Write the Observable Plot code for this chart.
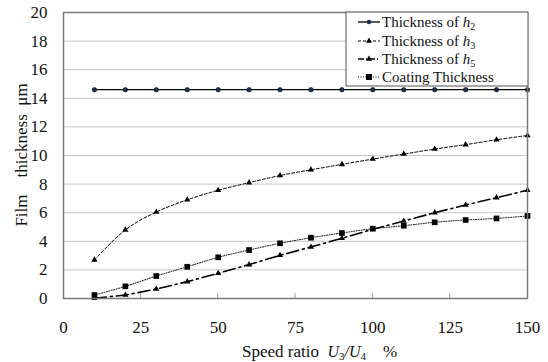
<!DOCTYPE html>
<html>
<head>
<meta charset="utf-8">
<script src="https://cdn.jsdelivr.net/npm/d3@7"></script>
<script src="https://cdn.jsdelivr.net/npm/@observablehq/plot@0.6"></script>
<style>
  html, body { margin: 0; padding: 0; background: #fff; }
  #chart svg, #chart svg text { font-family: "Liberation Serif", "Times New Roman", Times, "DejaVu Serif", serif !important; }
</style>
</head>
<body>
<div id="chart"></div>
<script>
// Speed ratio U3/U4 (%)
const speedRatio = [10, 20, 30, 40, 50, 60, 70, 80, 90, 100, 110, 120, 130, 140, 150];
// Film thickness (µm) for each series
const h2 = [14.6, 14.6, 14.6, 14.6, 14.6, 14.6, 14.6, 14.6, 14.6, 14.6, 14.6, 14.6, 14.6, 14.6, 14.6];
const h3 = [2.7, 4.8, 6.05, 6.9, 7.57, 8.1, 8.6, 9.0, 9.38, 9.75, 10.1, 10.45, 10.76, 11.1, 11.4];
const h5 = [0.02, 0.24, 0.66, 1.18, 1.76, 2.37, 3.02, 3.6, 4.21, 4.84, 5.42, 6.0, 6.54, 7.05, 7.57];
const coating = [0.24, 0.85, 1.57, 2.22, 2.88, 3.39, 3.86, 4.25, 4.58, 4.88, 5.09, 5.33, 5.49, 5.6, 5.77];
const xTicks = [0, 25, 50, 75, 100, 125, 150];
const yTicks = [0, 2, 4, 6, 8, 10, 12, 14, 16, 18, 20];

const rows = (ys) => speedRatio.map((x, i) => ({x, y: ys[i]}));
const dH2 = rows(h2), dH3 = rows(h3), dH5 = rows(h5), dCoat = rows(coating);

const serif = '"Liberation Serif", "Times New Roman", Times, "DejaVu Serif", serif';

const chart = Plot.plot({
  width: 548,
  height: 362,
  marginLeft: 63,
  marginRight: 21,
  marginTop: 12,
  marginBottom: 64,
  style: {fontFamily: serif, background: "#fff"},
  x: {domain: [0, 150]},
  y: {domain: [0, 20]},
  marks: [
    Plot.gridY(yTicks, {stroke: "#c8c8c8", strokeOpacity: 1, strokeWidth: 1}),
    Plot.axisY(yTicks, {tickSize: 0, tickPadding: 16, fontSize: 17, label: null, fill: "#111"}),
    Plot.axisX(xTicks, {tickSize: 0, tickPadding: 22, fontSize: 17, label: null, fill: "#111"}),
    // series lines and markers
    Plot.line(dH2, {x: "x", y: "y", stroke: "#000", strokeWidth: 1.3}),
    Plot.dot(dH2, {x: "x", y: "y", r: 2.3, fill: "#1f2f55", stroke: "#000", strokeWidth: 0.5}),
    Plot.line(dH3, {x: "x", y: "y", stroke: "#000", strokeWidth: 1, strokeDasharray: "3,2", curve: "catmull-rom"}),
    Plot.dot(dH3, {x: "x", y: "y", symbol: "triangle", r: 2.3, fill: "#000"}),
    Plot.line(dH5, {x: "x", y: "y", stroke: "#000", strokeWidth: 1.6, strokeDasharray: "12,4,2,4"}),
    Plot.dot(dH5, {x: "x", y: "y", symbol: "triangle", r: 2.3, fill: "#000"}),
    Plot.line(dCoat, {x: "x", y: "y", stroke: "#000", strokeWidth: 1, strokeDasharray: "1,1.5", curve: "catmull-rom"}),
    Plot.dot(dCoat, {x: "x", y: "y", symbol: "square", r: 3.2, fill: "#000"}),
    Plot.frame({stroke: "#7a7a7a", strokeWidth: 1.5})
  ]
});

const svg = d3.select(chart);
const xs = chart.scale("x"), ys = chart.scale("y");

// short inward tick marks on the bottom axis
svg.append("g").selectAll("line").data(xTicks.slice(1, -1)).join("line")
  .attr("x1", d => xs.apply(d)).attr("x2", d => xs.apply(d))
  .attr("y1", ys.apply(0)).attr("y2", ys.apply(0) - 5)
  .attr("stroke", "#999");

// axis titles
const xTitle = svg.append("text")
  .attr("x", 242).attr("y", 357)
  .attr("text-anchor", "start")
  .attr("font-size", 17).attr("fill", "#111")
  .attr("xml:space", "preserve");
xTitle.append("tspan").text("Speed ratio  ");
xTitle.append("tspan").attr("font-style", "italic").attr("font-size", 16).text("U");
xTitle.append("tspan").attr("font-size", 11).attr("dy", 3).text("3");
xTitle.append("tspan").attr("font-style", "italic").attr("font-size", 16).attr("dy", -3).text("/U");
xTitle.append("tspan").attr("font-size", 11).attr("dy", 3).text("4");
xTitle.append("tspan").attr("dy", -3).text("    %");

svg.append("text")
  .attr("transform", "translate(27,155) rotate(-90)")
  .attr("text-anchor", "middle")
  .attr("font-size", 17).attr("fill", "#111")
  .attr("xml:space", "preserve")
  .text("Film    thickness  μm");

// legend box
const legend = svg.append("g").attr("text-anchor", "start");
legend.append("rect")
  .attr("x", 346).attr("y", 12).attr("width", 182).attr("height", 74)
  .attr("fill", "#fff").attr("stroke", "#555").attr("stroke-width", 1);

const entries = [
  {label: "Thickness of ", v: "h", s: "2", dash: null, w: 1.3, mark: "circle"},
  {label: "Thickness of ", v: "h", s: "3", dash: "3,2", w: 1, mark: "triangle"},
  {label: "Thickness of ", v: "h", s: "5", dash: "6,2,1,2", w: 1.6, mark: "triangle"},
  {label: "Coating Thickness", v: null, s: null, dash: "1,1.5", w: 1, mark: "square"}
];
const rowY = [22, 41, 59, 77];
entries.forEach((e, i) => {
  const y = rowY[i];
  legend.append("line").attr("x1", 358).attr("x2", 380).attr("y1", y).attr("y2", y)
    .attr("stroke", "#000").attr("stroke-width", e.w)
    .attr("stroke-dasharray", e.dash);
  const sym = e.mark === "circle" ? d3.symbolCircle : e.mark === "triangle" ? d3.symbolTriangle : d3.symbolSquare;
  const size = e.mark === "square" ? 36 : 16;
  legend.append("path").attr("d", d3.symbol(sym, size)())
    .attr("transform", `translate(369,${y})`)
    .attr("fill", e.mark === "circle" ? "#1f2f55" : "#000");
  const t = legend.append("text").attr("x", 382).attr("y", y + 5)
    .attr("text-anchor", "start")
    .attr("font-size", 15).attr("fill", "#111");
  t.append("tspan").text(e.label);
  if (e.v) {
    t.append("tspan").attr("font-style", "italic").text(e.v);
    t.append("tspan").attr("font-size", 10).attr("dy", 3).text(e.s);
  }
});

document.getElementById("chart").appendChild(chart);
</script>
</body>
</html>
